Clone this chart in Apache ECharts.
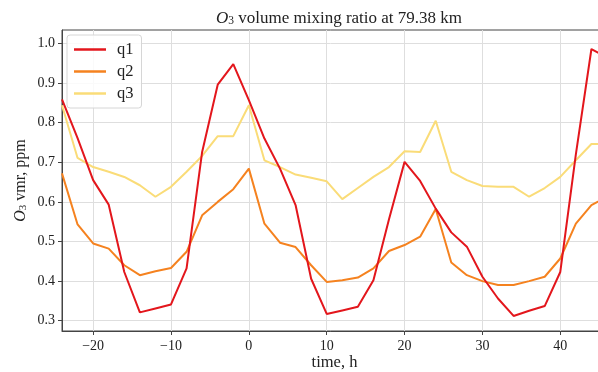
<!DOCTYPE html>
<html>
<head>
<meta charset="utf-8">
<script src="https://cdn.jsdelivr.net/npm/echarts@6/dist/echarts.min.js"></script>
<style>
html,body{margin:0;padding:0;background:#fff;}
#c{width:598px;height:372px;}
</style>
</head>
<body>
<div id="c"></div>
<script>
const times = [-24,-22,-20,-18,-16,-14,-12,-10,-8,-6,-4,-2,0,2,4,6,8,10,12,14,16,18,20,22,24,26,28,30,32,34,36,38,40,42,44,46];
const q1 = [0.859,0.761,0.655,0.593,0.423,0.321,0.331,0.341,0.432,0.726,0.896,0.948,0.857,0.760,0.684,0.592,0.406,0.317,0.326,0.335,0.402,0.556,0.701,0.653,0.583,0.523,0.487,0.411,0.356,0.312,0.325,0.337,0.423,0.720,0.986,0.965];
const q2 = [0.672,0.543,0.495,0.482,0.440,0.415,0.425,0.433,0.474,0.566,0.600,0.632,0.684,0.545,0.497,0.486,0.440,0.398,0.402,0.409,0.432,0.476,0.491,0.512,0.582,0.447,0.415,0.400,0.390,0.390,0.400,0.411,0.457,0.545,0.592,0.612];
const q3 = [0.844,0.711,0.688,0.676,0.663,0.642,0.613,0.638,0.676,0.716,0.766,0.766,0.844,0.705,0.688,0.669,0.661,0.652,0.607,0.635,0.663,0.688,0.728,0.726,0.805,0.676,0.655,0.640,0.638,0.638,0.613,0.635,0.663,0.705,0.746,0.746];
const xTicks = [-20,-10,0,10,20,30,40];
const yTicks = [0.3,0.4,0.5,0.6,0.7,0.8,0.9,1.0];
const seriesNames = ['q1','q2','q3'];
const colors = ['#e3161c','#f5821f','#fadc78'];

const FONT = '"Liberation Serif","DejaVu Serif",serif';
const pair = a => times.map((t,i)=>[t,a[i]]);
const chart = echarts.init(document.getElementById('c'), null, {renderer:'canvas'});
chart.setOption({
  animation:false,
  backgroundColor:'#fff',
  textStyle:{fontFamily:FONT},
  title:{
    text:'{o|O}{s|3}{t| volume mixing ratio at 79.38 km}',
    left:334, top:2, textAlign:'center',
    textStyle:{
      fontWeight:'normal',
      rich:{
        o:{fontFamily:FONT,fontStyle:'italic',fontWeight:'normal',fontSize:17,color:'#222',verticalAlign:'bottom',lineHeight:20},
        s:{fontFamily:FONT,fontWeight:'normal',fontSize:11.5,color:'#222',verticalAlign:'bottom',lineHeight:16},
        t:{fontFamily:FONT,fontWeight:'normal',fontSize:17,color:'#222',verticalAlign:'bottom',lineHeight:20}
      }
    }
  },
  legend:{
    orient:'vertical', left:67, top:35,
    data:seriesNames,
    icon:'rect', itemWidth:32, itemHeight:2.5, itemGap:5,
    padding:[6,8,6,7],
    backgroundColor:'rgba(255,255,255,0.85)',
    borderColor:'#d6d6d6', borderWidth:1, borderRadius:3,
    textStyle:{fontFamily:FONT,fontSize:16.5,color:'#222',padding:[0,0,0,6]}
  },
  grid:{left:62, top:30, right:-9, bottom:41, outerBoundsMode:'none', containLabel:false,
    show:true, borderColor:'#444', borderWidth:1, backgroundColor:'transparent'},
  xAxis:{
    type:'value', min:-24, max:46,
    name:'time, h', nameLocation:'middle', nameGap:23, nameMoveOverlap:false,
    nameTextStyle:{fontFamily:FONT,fontSize:16.5,color:'#222'},
    axisLine:{show:true,onZero:false,lineStyle:{color:'#444',width:1}},
    axisTick:{show:true,length:4,inside:false,lineStyle:{color:'#444'},customValues:xTicks},
    axisLabel:{fontFamily:FONT,fontSize:14,color:'#222',margin:8,customValues:xTicks,
      formatter:v=> v<0 ? '\u2212'+Math.abs(v) : String(v)},
    splitLine:{show:true,lineStyle:{color:'#dedede',width:1}}
  },
  yAxis:{
    type:'value', min:0.274, max:1.034,
    name:'{o|O}{s|3}{t| vmr, ppm}', nameLocation:'middle', nameGap:33, nameRotate:90, nameMoveOverlap:false,
    nameTextStyle:{
      rich:{
        o:{fontFamily:FONT,fontStyle:'italic',fontSize:16,color:'#222',verticalAlign:'bottom',lineHeight:19},
        s:{fontFamily:FONT,fontSize:11,color:'#222',verticalAlign:'bottom',lineHeight:15},
        t:{fontFamily:FONT,fontSize:16,color:'#222',verticalAlign:'bottom',lineHeight:19}
      }
    },
    axisLine:{show:true,onZero:false,lineStyle:{color:'#444',width:1}},
    axisTick:{show:true,length:4,inside:false,lineStyle:{color:'#444'},customValues:yTicks},
    axisLabel:{fontFamily:FONT,fontSize:14,color:'#222',margin:7,customValues:yTicks,
      formatter:v=>v.toFixed(1)},
    splitLine:{show:true,lineStyle:{color:'#dedede',width:1}}
  },
  series:[q1,q2,q3].map((a,i)=>({
    name:seriesNames[i], type:'line', data:pair(a),
    symbol:'none', showSymbol:false, z:10-i,
    lineStyle:{color:colors[i],width:2},
    itemStyle:{color:colors[i]}
  }))
});
</script>
</body>
</html>
